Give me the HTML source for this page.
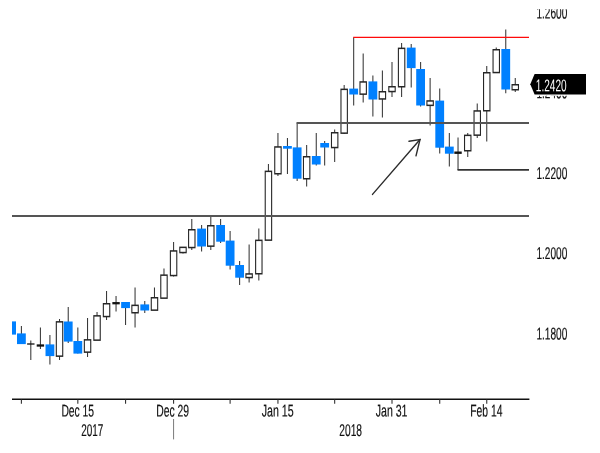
<!DOCTYPE html>
<html lang="en"><head><meta charset="utf-8"><title>Chart</title>
<style>
html,body{margin:0;padding:0;background:#fff;}
body{width:600px;height:453px;overflow:hidden;}
svg{display:block;}
text{font-family:"Liberation Sans",sans-serif;text-rendering:geometricPrecision;}
</style></head><body>
<svg width="600" height="453" viewBox="0 0 600 453">
<rect width="600" height="453" fill="#fff"/>
<defs><clipPath id="top"><rect x="0" y="9.3" width="600" height="445"/></clipPath></defs>
<g stroke="#363636" stroke-width="1.05">
<line x1="21.40" y1="326" x2="21.40" y2="344"/>
<line x1="30.81" y1="340.5" x2="30.81" y2="360"/>
<line x1="40.41" y1="327.5" x2="40.41" y2="349"/>
<line x1="49.91" y1="335" x2="49.91" y2="364.6"/>
<line x1="59.52" y1="319" x2="59.52" y2="360"/>
<line x1="68.23" y1="307" x2="68.23" y2="343"/>
<line x1="77.83" y1="327.5" x2="77.83" y2="353.5"/>
<line x1="87.54" y1="318" x2="87.54" y2="357"/>
<line x1="97.04" y1="312" x2="97.04" y2="340"/>
<line x1="106.55" y1="291" x2="106.55" y2="320"/>
<line x1="116.05" y1="296" x2="116.05" y2="311.6"/>
<line x1="125.56" y1="302" x2="125.56" y2="325"/>
<line x1="135.06" y1="287.6" x2="135.06" y2="327.4"/>
<line x1="144.76" y1="301" x2="144.76" y2="313"/>
<line x1="154.47" y1="287.6" x2="154.47" y2="310"/>
<line x1="163.98" y1="268.4" x2="163.98" y2="298"/>
<line x1="173.58" y1="242" x2="173.58" y2="276.6"/>
<line x1="182.99" y1="247" x2="182.99" y2="253.5"/>
<line x1="191.79" y1="219" x2="191.79" y2="250"/>
<line x1="201.60" y1="225" x2="201.60" y2="251.4"/>
<line x1="210.80" y1="216" x2="210.80" y2="250"/>
<line x1="220.61" y1="219" x2="220.61" y2="243"/>
<line x1="230.11" y1="231" x2="230.11" y2="269.4"/>
<line x1="239.62" y1="261" x2="239.62" y2="285"/>
<line x1="249.12" y1="244.4" x2="249.12" y2="282.6"/>
<line x1="258.82" y1="228.6" x2="258.82" y2="280.4"/>
<line x1="268.43" y1="164" x2="268.43" y2="240"/>
<line x1="277.94" y1="133" x2="277.94" y2="176"/>
<line x1="287.44" y1="138" x2="287.44" y2="174"/>
<line x1="297.15" y1="122.5" x2="297.15" y2="181"/>
<line x1="306.65" y1="145" x2="306.65" y2="186.4"/>
<line x1="316.26" y1="133" x2="316.26" y2="165.6"/>
<line x1="324.66" y1="141" x2="324.66" y2="165.6"/>
<line x1="334.67" y1="129.4" x2="334.67" y2="162"/>
<line x1="344.17" y1="85" x2="344.17" y2="134"/>
<line x1="353.68" y1="37.4" x2="353.68" y2="105.4"/>
<line x1="363.18" y1="53.6" x2="363.18" y2="102.6"/>
<line x1="372.88" y1="75.4" x2="372.88" y2="116.4"/>
<line x1="382.39" y1="70.6" x2="382.39" y2="117.4"/>
<line x1="392.00" y1="62" x2="392.00" y2="97"/>
<line x1="401.60" y1="43" x2="401.60" y2="97"/>
<line x1="411.21" y1="44" x2="411.21" y2="87.4"/>
<line x1="420.61" y1="62" x2="420.61" y2="106.6"/>
<line x1="430.12" y1="78" x2="430.12" y2="125.6"/>
<line x1="439.72" y1="88.6" x2="439.72" y2="153.6"/>
<line x1="449.33" y1="133" x2="449.33" y2="166.6"/>
<line x1="458.03" y1="137.4" x2="458.03" y2="170"/>
<line x1="467.74" y1="133" x2="467.74" y2="157"/>
<line x1="477.24" y1="103.4" x2="477.24" y2="138"/>
<line x1="486.75" y1="66" x2="486.75" y2="141.4"/>
<line x1="496.25" y1="47.4" x2="496.25" y2="72.4"/>
<line x1="505.76" y1="29.4" x2="505.76" y2="93.2"/>
<line x1="515.26" y1="78" x2="515.26" y2="92"/>
</g>
<g>
<rect x="12" y="321.4" width="4" height="13.2" fill="#0080ff"/>
<rect x="17.00" y="333.4" width="8.8" height="10.7" fill="#0080ff"/>
<line x1="27.11" y1="344" x2="34.51" y2="344" stroke="#111" stroke-width="1.3"/>
<line x1="36.71" y1="345.5" x2="44.11" y2="345.5" stroke="#111" stroke-width="2.3"/>
<rect x="45.52" y="344.4" width="8.8" height="11.7" fill="#0080ff"/>
<rect x="55.77" y="321.1" width="7.5" height="35.8" fill="#262626"/>
<rect x="56.87" y="322.60" width="5.30" height="32.8" fill="#fff"/>
<rect x="63.83" y="321.5" width="8.8" height="20.1" fill="#0080ff"/>
<rect x="73.43" y="341" width="8.8" height="12.6" fill="#0080ff"/>
<rect x="83.79" y="339.1" width="7.5" height="13.8" fill="#262626"/>
<rect x="84.89" y="340.60" width="5.30" height="10.8" fill="#fff"/>
<rect x="93.29" y="315.1" width="7.5" height="25.8" fill="#262626"/>
<rect x="94.39" y="316.60" width="5.30" height="22.8" fill="#fff"/>
<rect x="102.80" y="303.0" width="7.5" height="14.3" fill="#262626"/>
<rect x="103.89" y="304.50" width="5.30" height="11.3" fill="#fff"/>
<line x1="112.35" y1="303.2" x2="119.75" y2="303.2" stroke="#111" stroke-width="2.3"/>
<rect x="121.16" y="302" width="8.8" height="6.1" fill="#0080ff"/>
<rect x="131.31" y="304.6" width="7.5" height="8.9" fill="#262626"/>
<rect x="132.41" y="306.10" width="5.30" height="5.9" fill="#fff"/>
<rect x="140.36" y="304.4" width="8.8" height="6.1" fill="#0080ff"/>
<rect x="150.72" y="297.0" width="7.5" height="13.9" fill="#262626"/>
<rect x="151.82" y="298.50" width="5.30" height="10.9" fill="#fff"/>
<rect x="160.23" y="274.4" width="7.5" height="24.5" fill="#262626"/>
<rect x="161.33" y="275.90" width="5.30" height="21.5" fill="#fff"/>
<rect x="169.83" y="250.2" width="7.5" height="26.1" fill="#262626"/>
<rect x="170.93" y="251.70" width="5.30" height="23.1" fill="#fff"/>
<rect x="179.24" y="246.6" width="7.5" height="6.7" fill="#262626"/>
<rect x="180.34" y="248.10" width="5.30" height="3.7" fill="#fff"/>
<rect x="188.04" y="229.0" width="7.5" height="19.3" fill="#262626"/>
<rect x="189.14" y="230.50" width="5.30" height="16.3" fill="#fff"/>
<rect x="197.20" y="228.6" width="8.8" height="17.9" fill="#0080ff"/>
<rect x="207.05" y="225.0" width="7.5" height="21.9" fill="#262626"/>
<rect x="208.15" y="226.50" width="5.30" height="18.9" fill="#fff"/>
<rect x="216.21" y="225" width="8.8" height="16.7" fill="#0080ff"/>
<rect x="225.71" y="240.6" width="8.8" height="25.1" fill="#0080ff"/>
<rect x="235.22" y="265" width="8.8" height="12.7" fill="#0080ff"/>
<rect x="245.37" y="273.2" width="7.5" height="5.1" fill="#262626"/>
<rect x="246.47" y="274.70" width="5.30" height="2.1" fill="#fff"/>
<rect x="255.07" y="239.6" width="7.5" height="34.9" fill="#262626"/>
<rect x="256.18" y="241.10" width="5.30" height="31.9" fill="#fff"/>
<rect x="264.68" y="170.6" width="7.5" height="70.3" fill="#262626"/>
<rect x="265.78" y="172.10" width="5.30" height="67.3" fill="#fff"/>
<rect x="274.19" y="146.2" width="7.5" height="28.3" fill="#262626"/>
<rect x="275.29" y="147.70" width="5.30" height="25.3" fill="#fff"/>
<rect x="283.04" y="146" width="8.8" height="2.7" fill="#0080ff"/>
<rect x="292.75" y="147.4" width="8.8" height="31.3" fill="#0080ff"/>
<rect x="302.90" y="156.0" width="7.5" height="23.5" fill="#262626"/>
<rect x="304.00" y="157.50" width="5.30" height="20.5" fill="#fff"/>
<rect x="311.86" y="156" width="8.8" height="8.5" fill="#0080ff"/>
<rect x="320.26" y="143" width="8.8" height="4.5" fill="#0080ff"/>
<rect x="330.92" y="132.0" width="7.5" height="16.3" fill="#262626"/>
<rect x="332.02" y="133.50" width="5.30" height="13.3" fill="#fff"/>
<rect x="340.42" y="88.6" width="7.5" height="45.3" fill="#262626"/>
<rect x="341.52" y="90.10" width="5.30" height="42.3" fill="#fff"/>
<rect x="349.28" y="88.6" width="8.8" height="5.9" fill="#0080ff"/>
<rect x="359.43" y="81.2" width="7.5" height="13.7" fill="#262626"/>
<rect x="360.53" y="82.70" width="5.30" height="10.7" fill="#fff"/>
<rect x="368.49" y="81.4" width="8.8" height="18.1" fill="#0080ff"/>
<rect x="378.64" y="91.0" width="7.5" height="8.7" fill="#262626"/>
<rect x="379.74" y="92.50" width="5.30" height="5.7" fill="#fff"/>
<rect x="388.25" y="86.0" width="7.5" height="6.3" fill="#262626"/>
<rect x="389.35" y="87.50" width="5.30" height="3.3" fill="#fff"/>
<rect x="397.85" y="47.6" width="7.5" height="39.9" fill="#262626"/>
<rect x="398.95" y="49.10" width="5.30" height="36.9" fill="#fff"/>
<rect x="406.81" y="47.6" width="8.8" height="20.5" fill="#0080ff"/>
<rect x="416.21" y="69" width="8.8" height="36.5" fill="#0080ff"/>
<rect x="426.37" y="100.2" width="7.5" height="5.9" fill="#262626"/>
<rect x="427.47" y="101.70" width="5.30" height="2.9" fill="#fff"/>
<rect x="435.32" y="100.6" width="8.8" height="47.1" fill="#0080ff"/>
<rect x="444.93" y="146.6" width="8.8" height="7.1" fill="#0080ff"/>
<line x1="454.33" y1="152.7" x2="461.73" y2="152.7" stroke="#111" stroke-width="2.4"/>
<rect x="463.99" y="134.6" width="7.5" height="16.9" fill="#262626"/>
<rect x="465.09" y="136.10" width="5.30" height="13.9" fill="#fff"/>
<rect x="473.49" y="110.2" width="7.5" height="25.7" fill="#262626"/>
<rect x="474.59" y="111.70" width="5.30" height="22.7" fill="#fff"/>
<rect x="483.00" y="72.0" width="7.5" height="39.5" fill="#262626"/>
<rect x="484.10" y="73.50" width="5.30" height="36.5" fill="#fff"/>
<rect x="492.50" y="49.0" width="7.5" height="24.3" fill="#262626"/>
<rect x="493.60" y="50.50" width="5.30" height="21.3" fill="#fff"/>
<rect x="501.36" y="49" width="8.8" height="40.5" fill="#0080ff"/>
<rect x="511.51" y="84.0" width="7.5" height="6.5" fill="#262626"/>
<rect x="512.61" y="85.50" width="5.30" height="3.5" fill="#fff"/>
</g>
<g fill="none">
<line x1="12" y1="216" x2="529" y2="216" stroke="#555" stroke-width="2"/>
<line x1="296.65" y1="123" x2="529" y2="123" stroke="#555" stroke-width="2"/>
<line x1="457.53" y1="169.85" x2="529" y2="169.85" stroke="#333" stroke-width="1.7"/>
<line x1="353.18" y1="37.3" x2="529" y2="37.3" stroke="#ff0a0a" stroke-width="1.25"/>
</g>
<g stroke="#2c2c2c" stroke-width="1.4" fill="none" stroke-linecap="round">
<line x1="372.5" y1="194.4" x2="420" y2="139.5"/>
<polyline points="409,141.3 420,139.5 416,155.8"/>
</g>
<g stroke="#111" stroke-width="1.5">
<line x1="12" y1="399.2" x2="529.4" y2="399.2"/>
</g>
<g stroke="#333" stroke-width="1.1">
<line x1="21.40" y1="399.5" x2="21.40" y2="403.7"/>
<line x1="77.83" y1="399.5" x2="77.83" y2="403.7"/>
<line x1="125.56" y1="399.5" x2="125.56" y2="403.7"/>
<line x1="173.58" y1="399.5" x2="173.58" y2="403.7"/>
<line x1="230.11" y1="399.5" x2="230.11" y2="403.7"/>
<line x1="277.94" y1="399.5" x2="277.94" y2="403.7"/>
<line x1="334.67" y1="399.5" x2="334.67" y2="403.7"/>
<line x1="392.00" y1="399.5" x2="392.00" y2="403.7"/>
<line x1="439.72" y1="399.5" x2="439.72" y2="403.7"/>
<line x1="486.75" y1="399.5" x2="486.75" y2="403.7"/>
</g>
<line x1="173.58" y1="419" x2="173.58" y2="439.4" stroke="#7a7a7a" stroke-width="1"/>
<text transform="translate(61.4 416.6) rotate(0.03) scale(1.0 1.7)" font-size="10" textLength="32.7" lengthAdjust="spacingAndGlyphs" fill="#111" stroke="#111" stroke-width="0.12">Dec 15</text>
<text transform="translate(156.3 416.6) rotate(0.03) scale(1.0 1.7)" font-size="10" textLength="32.7" lengthAdjust="spacingAndGlyphs" fill="#111" stroke="#111" stroke-width="0.12">Dec 29</text>
<text transform="translate(261.7 416.6) rotate(0.03) scale(1.0 1.7)" font-size="10" textLength="32.0" lengthAdjust="spacingAndGlyphs" fill="#111" stroke="#111" stroke-width="0.12">Jan 15</text>
<text transform="translate(375.7 416.6) rotate(0.03) scale(1.0 1.7)" font-size="10" textLength="31.8" lengthAdjust="spacingAndGlyphs" fill="#111" stroke="#111" stroke-width="0.12">Jan 31</text>
<text transform="translate(470.3 416.6) rotate(0.03) scale(1.0 1.7)" font-size="10" textLength="32.1" lengthAdjust="spacingAndGlyphs" fill="#111" stroke="#111" stroke-width="0.12">Feb 14</text>
<text transform="translate(81.3 435.9) rotate(0.03) scale(1.0 1.7)" font-size="10" textLength="22.1" lengthAdjust="spacingAndGlyphs" fill="#111" stroke="#111" stroke-width="0.12">2017</text>
<text transform="translate(339.3 435.9) rotate(0.03) scale(1.0 1.7)" font-size="10" textLength="22.7" lengthAdjust="spacingAndGlyphs" fill="#111" stroke="#111" stroke-width="0.12">2018</text>
<g clip-path="url(#top)">
<text transform="translate(536.4 18.6) rotate(0.03) scale(1.0 1.7)" font-size="10" textLength="30.9" lengthAdjust="spacingAndGlyphs" fill="#111" stroke="#111" stroke-width="0.12">1.2600</text>
</g>
<text transform="translate(536.4 98.3) rotate(0.03) scale(1.0 1.7)" font-size="10" textLength="30.9" lengthAdjust="spacingAndGlyphs" fill="#111" stroke="#111" stroke-width="0.12">1.2400</text>
<text transform="translate(536.4 178.9) rotate(0.03) scale(1.0 1.7)" font-size="10" textLength="30.9" lengthAdjust="spacingAndGlyphs" fill="#111" stroke="#111" stroke-width="0.12">1.2200</text>
<text transform="translate(536.4 258.9) rotate(0.03) scale(1.0 1.7)" font-size="10" textLength="30.9" lengthAdjust="spacingAndGlyphs" fill="#111" stroke="#111" stroke-width="0.12">1.2000</text>
<text transform="translate(536.4 339.5) rotate(0.03) scale(1.0 1.7)" font-size="10" textLength="30.9" lengthAdjust="spacingAndGlyphs" fill="#111" stroke="#111" stroke-width="0.12">1.1800</text>
<polygon points="530.3,84.3 534.6,74 586,74 586,94.6 534.6,94.6" fill="#000" stroke="#fff" stroke-width="2.2" paint-order="stroke"/>
<text transform="translate(535.8 91.3) rotate(0.03) scale(1.0 1.7)" font-size="10" textLength="30.8" lengthAdjust="spacingAndGlyphs" fill="#fff">1.2420</text>
</svg></body></html>
